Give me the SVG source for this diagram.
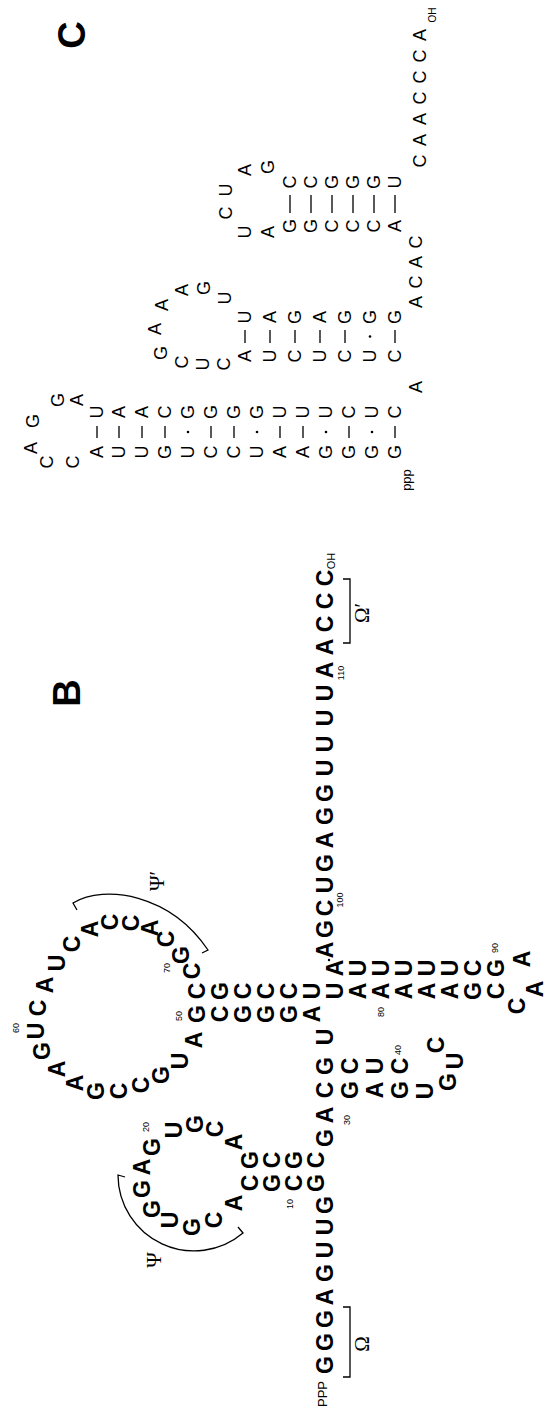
<svg xmlns="http://www.w3.org/2000/svg" width="547" height="1416" viewBox="0 0 547 1416">
<style>
.b{font-family:"Liberation Sans",Arial,sans-serif;font-weight:bold;font-size:23px;text-anchor:middle;dominant-baseline:central;fill:#000}
.n{font-family:"Liberation Sans",Arial,sans-serif;font-size:9px;text-anchor:middle;dominant-baseline:central;fill:#000}
.c{font-family:"Liberation Sans",Arial,sans-serif;font-size:18px;text-anchor:middle;dominant-baseline:central;fill:#000}
.s{font-family:"Liberation Serif","Times New Roman",serif;font-size:21px;text-anchor:middle;dominant-baseline:central;fill:#000}
.lab{font-family:"Liberation Sans",Arial,sans-serif;font-weight:bold;font-size:38px;text-anchor:middle;dominant-baseline:central;fill:#000}
.ln{fill:none;stroke:#000;stroke-width:1.3}
.bd{stroke:#000;stroke-width:1.3}
</style>
<rect width="547" height="1416" fill="#fff"/>
<g transform="translate(0,1416) rotate(-90)">
<g id="panelB-label"><text class="lab" x="723" y="67">B</text></g>
<g id="panelC-label"><text class="lab" x="1381" y="72">C</text></g>

<g id="B-strand5">
<text class="n" x="22" y="322" style="font-size:13px">PPP</text>
<text class="b" x="51" y="325">G</text><text class="b" x="74" y="325">G</text><text class="b" x="97" y="325">G</text>
<text class="b" x="119" y="325">A</text><text class="b" x="143" y="325">G</text><text class="b" x="166" y="325">U</text>
<text class="b" x="189" y="325">U</text><text class="b" x="211" y="325">G</text>
<text class="n" x="212" y="290">10</text>
</g>
<g id="B-psi-stem">
<text class="b" x="233" y="316">G</text><text class="b" x="233" y="294">C</text><text class="b" x="233" y="272">G</text><text class="b" x="233" y="250">C</text>
<text class="b" x="256" y="250">G</text><text class="b" x="256" y="272">C</text><text class="b" x="256" y="294">G</text><text class="b" x="256" y="316">C</text>
</g>
<g id="B-psi-loop">
<text class="b" x="213" y="234">A</text><text class="b" x="196" y="214">C</text><text class="b" x="189" y="192">G</text>
<text class="b" x="196" y="170">U</text><text class="b" x="207" y="152">G</text><text class="b" x="227" y="142">G</text>
<text class="b" x="249" y="142">A</text><text class="b" x="269" y="152">G</text><text class="n" x="289" y="146">20</text>
<text class="b" x="286" y="174">U</text><text class="b" x="292" y="195">G</text><text class="b" x="287" y="215">C</text><text class="b" x="274" y="234">A</text>
</g>
<g id="B-mid">
<text class="b" x="278" y="325">G</text><text class="b" x="301" y="325">A</text><text class="n" x="296" y="347">30</text>
</g>
<g id="B-hp40">
<text class="b" x="326" y="325">C</text><text class="b" x="326" y="350">G</text><text class="b" x="326" y="375">A</text><text class="b" x="326" y="400">G</text>
<text class="b" x="325" y="425">U</text><text class="b" x="334" y="448">G</text><text class="b" x="355" y="455">U</text><text class="b" x="371" y="436">C</text>
<text class="b" x="350" y="400">C</text><text class="n" x="366" y="398">40</text>
<text class="b" x="350" y="375">U</text><text class="b" x="350" y="350">C</text><text class="b" x="350" y="325">G</text>
<text class="b" x="379" y="325">U</text>
</g>
<g id="B-psiprime-stem">
<text class="b" x="402" y="312">A</text><text class="b" x="402" y="289">G</text><text class="b" x="402" y="266">G</text><text class="b" x="402" y="243">G</text><text class="b" x="402" y="220">C</text><text class="b" x="402" y="197">G</text>
<text class="n" x="400" y="179">50</text>
</g>
<g id="B-psiprime-loop">
<text class="b" x="376" y="194">A</text><text class="b" x="355" y="180">U</text><text class="b" x="341" y="161">G</text>
<text class="b" x="331" y="141">C</text><text class="b" x="325" y="119">C</text><text class="b" x="325" y="96">G</text>
<text class="b" x="333" y="75">A</text><text class="b" x="347" y="57">A</text><text class="b" x="365" y="42">G</text>
<text class="b" x="385" y="36">U</text><text class="n" x="388" y="16">60</text>
<text class="b" x="408" y="38">C</text><text class="b" x="431" y="45">A</text><text class="b" x="453" y="57">U</text>
<text class="b" x="472" y="72">C</text><text class="b" x="487" y="90">A</text><text class="b" x="494" y="110">C</text>
<text class="b" x="493" y="131">C</text><text class="b" x="488" y="150">A</text><text class="b" x="477" y="166">C</text>
<text class="b" x="461" y="181">G</text><text class="n" x="448" y="167">70</text><text class="b" x="445" y="192">C</text>
</g>
<g id="B-long-helix">
<text class="b" x="425" y="197">C</text><text class="b" x="425" y="220">G</text><text class="b" x="425" y="243">C</text><text class="b" x="425" y="266">C</text>
<text class="b" x="425" y="289">C</text><text class="b" x="425" y="312">U</text><text class="b" x="425" y="335">U</text><text class="b" x="425" y="358">A</text>
<text class="b" x="425" y="381">A</text><text class="n" x="404" y="381">80</text>
<text class="b" x="425" y="404">A</text><text class="b" x="425" y="427">A</text><text class="b" x="425" y="450">A</text>
<text class="b" x="425" y="473">G</text><text class="b" x="425" y="496">C</text>
</g>
<g id="B-hp90">
<text class="b" x="410" y="517">C</text><text class="b" x="427" y="535">A</text><text class="b" x="457" y="522">A</text>
<text class="b" x="448" y="496">G</text><text class="n" x="468" y="495">90</text>
<text class="b" x="448" y="473">C</text><text class="b" x="448" y="450">U</text><text class="b" x="448" y="427">U</text><text class="b" x="448" y="404">U</text>
<text class="b" x="448" y="381">U</text><text class="b" x="448" y="358">U</text><text class="b" x="448" y="335">A</text>
</g>
<g id="B-strand3">
<circle cx="456" cy="329" r="1.2"/>
<text class="b" x="466" y="325">A</text>
<text class="b" x="487" y="325">G</text><text class="b" x="508" y="325">C</text><text class="n" x="516" y="340">100</text>
<text class="b" x="531" y="325">U</text><text class="b" x="553" y="325">G</text><text class="b" x="576" y="325">A</text>
<text class="b" x="600" y="325">G</text><text class="b" x="623" y="325">G</text><text class="b" x="648" y="325">U</text>
<text class="b" x="672" y="325">U</text><text class="b" x="698" y="325">U</text><text class="b" x="723" y="325">U</text>
<text class="b" x="746" y="325">A</text><text class="n" x="743" y="341">110</text>
<text class="b" x="769" y="325">A</text><text class="b" x="792" y="325">C</text><text class="b" x="815" y="325">C</text><text class="b" x="838" y="325">C</text>
<text class="n" x="855" y="331" style="font-size:11px">OH</text>
</g>
<g id="B-annotations">
<path class="ln" d="M39 343 V350 H109 V343"/>
<text class="s" x="72" y="362">Ω</text>
<path class="ln" d="M773 343 V350 H837 V343"/>
<text class="s" x="803" y="362">Ω′</text>
<path class="ln" d="M239 125 L241 118 A76 76 0 0 0 183 243 L189 238"/>
<text class="s" x="156" y="154">Ψ</text>
<path class="ln" d="M506 77 L513 73 C532 105 522 170 466 208 L463 202"/>
<text class="s" x="535" y="157">Ψ′</text>
</g>

<g id="C-hp1">
<text class="c" x="936" y="406" style="font-size:13px">ppp</text>
<text class="c" x="964" y="395">G</text><text class="c" x="964" y="372">G</text><text class="c" x="964" y="349">G</text><text class="c" x="964" y="326">G</text>
<text class="c" x="964" y="303">A</text><text class="c" x="964" y="280">A</text><text class="c" x="964" y="257">U</text><text class="c" x="964" y="234">C</text>
<text class="c" x="964" y="211">C</text><text class="c" x="964" y="188">U</text><text class="c" x="964" y="165">G</text><text class="c" x="964" y="142">U</text>
<text class="c" x="964" y="119">U</text><text class="c" x="964" y="97">A</text>
<text class="c" x="954" y="73">C</text><text class="c" x="954" y="47">C</text><text class="c" x="968" y="31">A</text>
<text class="c" x="995" y="33">G</text><text class="c" x="1016" y="58">G</text><text class="c" x="1016" y="77">A</text>
<text class="c" x="1004" y="97">U</text><text class="c" x="1004" y="119">A</text><text class="c" x="1004" y="142">A</text><text class="c" x="1004" y="165">C</text>
<text class="c" x="1004" y="188">G</text><text class="c" x="1004" y="211">G</text><text class="c" x="1004" y="234">G</text><text class="c" x="1004" y="257">G</text>
<text class="c" x="1004" y="280">U</text><text class="c" x="1004" y="303">U</text><text class="c" x="1004" y="326">U</text><text class="c" x="1004" y="349">C</text>
<text class="c" x="1004" y="372">U</text><text class="c" x="1004" y="395">C</text>
</g>
<g id="C-hp1-bonds">
<path class="bd" d="M978 395H990M978 349H990M978 303H990M978 280H990M978 234H990M978 211H990M978 165H990M978 142H990M978 119H990M978 97H990"/>
<circle cx="984" cy="372" r="1.3"/><circle cx="984" cy="326" r="1.3"/><circle cx="984" cy="257" r="1.3"/><circle cx="984" cy="188" r="1.3"/>
</g>
<g id="C-link1"><text class="c" x="1029" y="416">A</text></g>
<g id="C-hp2">
<text class="c" x="1060" y="395">C</text><text class="c" x="1060" y="370">U</text><text class="c" x="1060" y="345">C</text><text class="c" x="1060" y="320">U</text>
<text class="c" x="1060" y="295">C</text><text class="c" x="1060" y="270">U</text><text class="c" x="1060" y="245">A</text>
<text class="c" x="1052" y="224">C</text><text class="c" x="1052" y="203">U</text><text class="c" x="1054" y="182">C</text>
<text class="c" x="1063" y="161">G</text><text class="c" x="1087" y="155">A</text><text class="c" x="1111" y="162">A</text>
<text class="c" x="1126" y="182">A</text><text class="c" x="1128" y="204">G</text><text class="c" x="1118" y="225">U</text>
<text class="c" x="1099" y="245">U</text><text class="c" x="1099" y="270">A</text><text class="c" x="1099" y="295">G</text><text class="c" x="1099" y="320">A</text>
<text class="c" x="1099" y="345">G</text><text class="c" x="1099" y="370">G</text><text class="c" x="1099" y="395">G</text>
<path class="bd" d="M1073 395H1086M1073 345H1086M1073 320H1086M1073 295H1086M1073 270H1086M1073 245H1086"/>
<circle cx="1079.5" cy="370" r="1.3"/>
</g>
<g id="C-link2">
<text class="c" x="1114" y="416">A</text><text class="c" x="1134" y="416">C</text><text class="c" x="1154" y="416">A</text><text class="c" x="1174" y="416">C</text>
</g>
<g id="C-hp3">
<text class="c" x="1190" y="395">A</text><text class="c" x="1190" y="374">C</text><text class="c" x="1190" y="353">C</text><text class="c" x="1190" y="332">C</text>
<text class="c" x="1190" y="311">G</text><text class="c" x="1190" y="290">G</text><text class="c" x="1184" y="268">A</text><text class="c" x="1184" y="245">U</text>
<text class="c" x="1203" y="226">C</text><text class="c" x="1226" y="226">U</text><text class="c" x="1246" y="245">A</text><text class="c" x="1249" y="268">G</text>
<text class="c" x="1234" y="290">C</text><text class="c" x="1234" y="311">C</text><text class="c" x="1234" y="332">G</text><text class="c" x="1234" y="353">G</text>
<text class="c" x="1234" y="374">G</text><text class="c" x="1234" y="395">U</text>
<path class="bd" d="M1203 395H1221M1203 374H1221M1203 353H1221M1203 332H1221M1203 311H1221M1203 290H1221"/>
</g>
<g id="C-tail">
<text class="c" x="1255" y="420">C</text><text class="c" x="1276" y="420">A</text><text class="c" x="1297" y="420">A</text><text class="c" x="1318" y="420">C</text>
<text class="c" x="1339" y="420">C</text><text class="c" x="1360" y="420">C</text><text class="c" x="1381" y="420">A</text>
<text class="c" x="1401" y="432" style="font-size:10px">OH</text>
</g>
</g>
</svg>
